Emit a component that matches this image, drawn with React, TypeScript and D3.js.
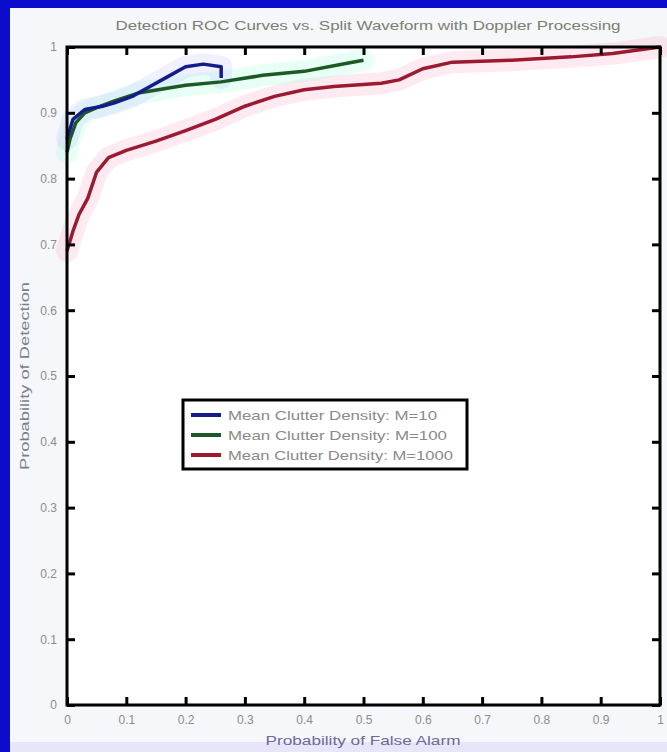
import { useEffect, useRef } from 'react';
import * as d3 from 'd3';

const xTicks = [0, 0.1, 0.2, 0.3, 0.4, 0.5, 0.6, 0.7, 0.8, 0.9, 1];
const yTicks = [0, 0.1, 0.2, 0.3, 0.4, 0.5, 0.6, 0.7, 0.8, 0.9, 1];

// M=10
const pfaM10 = [0, 0.01, 0.03, 0.06, 0.08, 0.11, 0.14, 0.17, 0.2, 0.23, 0.26, 0.26];
const pdM10 = [0.86, 0.89, 0.905, 0.91, 0.915, 0.925, 0.94, 0.955, 0.97, 0.974, 0.97, 0.953];

// M=100
const pfaM100 = [0, 0.005, 0.015, 0.03, 0.05, 0.08, 0.12, 0.2, 0.26, 0.33, 0.4, 0.47, 0.5];
const pdM100 = [0.84, 0.86, 0.885, 0.9, 0.908, 0.918, 0.93, 0.942, 0.947, 0.957, 0.963, 0.975, 0.98];

// M=1000
const pfaM1000 = [0, 0.01, 0.02, 0.035, 0.05, 0.07, 0.1, 0.15, 0.2, 0.25, 0.3, 0.35, 0.4, 0.45, 0.53, 0.56, 0.6, 0.65, 0.75, 0.85, 0.92, 1.0];
const pdM1000 = [0.69, 0.72, 0.745, 0.77, 0.81, 0.832, 0.843, 0.857, 0.873, 0.89, 0.91, 0.925, 0.935, 0.94, 0.945, 0.95, 0.967, 0.977, 0.98, 0.985, 0.99, 1.0];

const seriesNames = ['Mean Clutter Density: M=10', 'Mean Clutter Density: M=100', 'Mean Clutter Density: M=1000'];
const legendWidths = [209, 219, 225];
const seriesColors = ['#141c8c', '#1b5a24', '#9c1a30'];
const haloColors = ['rgba(170,170,255,0.18)', 'rgba(140,255,210,0.2)', 'rgba(255,140,175,0.18)'];

export default function App() {
  const svgRef = useRef<SVGSVGElement | null>(null);

  useEffect(() => {
    if (!svgRef.current) return;
    const W = 667;
    const H = 752;
    const left = 67, right = 660, top = 47, bottom = 705;
    const font = '"Liberation Sans", Arial, sans-serif';

    const svg = d3.select(svgRef.current).attr('width', W).attr('height', H);
    svg.selectAll('*').remove();

    // figure background + blue frame
    svg.append('rect').attr('width', W).attr('height', H).attr('fill', '#f6f7fb');
    svg.append('rect').attr('x', 0).attr('y', H - 10).attr('width', W).attr('height', 10).attr('fill', '#e6e6f8');
    svg.append('rect').attr('x', 0).attr('y', 0).attr('width', 10).attr('height', H).attr('fill', '#0c0ccc');
    svg.append('rect').attr('x', 0).attr('y', 0).attr('width', W).attr('height', 8).attr('fill', '#0c0ccc');

    const x = d3.scaleLinear().domain([0, 1]).range([left, right]);
    const y = d3.scaleLinear().domain([0, 1]).range([bottom, top]);

    svg.append('rect')
      .attr('x', left).attr('y', top)
      .attr('width', right - left).attr('height', bottom - top)
      .attr('fill', '#ffffff');

    // curves
    const line = d3.line<[number, number]>()
      .x(d => x(d[0]))
      .y(d => y(d[1]));

    const series: [number, number][][] = [
      pfaM10.map((v, i) => [v, pdM10[i]]),
      pfaM100.map((v, i) => [v, pdM100[i]]),
      pfaM1000.map((v, i) => [v, pdM1000[i]]),
    ];

    const g = svg.append('g');
    [2, 1, 0].forEach(i => {
      g.append('path')
        .attr('d', line(series[i]))
        .attr('fill', 'none')
        .attr('stroke', haloColors[i])
        .attr('stroke-width', 22)
        .attr('stroke-linejoin', 'round')
        .attr('stroke-linecap', 'round');
    });
    [2, 1, 0].forEach(i => {
      g.append('path')
        .attr('d', line(series[i]))
        .attr('fill', 'none')
        .attr('stroke', seriesColors[i])
        .attr('stroke-width', 3.5)
        .attr('stroke-linejoin', 'round');
    });

    // frame
    svg.append('rect')
      .attr('x', left).attr('y', top)
      .attr('width', right - left).attr('height', bottom - top)
      .attr('fill', 'none')
      .attr('stroke', '#000')
      .attr('stroke-width', 3);

    // axes (ticks inward, like matlab)
    const axB = svg.append('g').attr('transform', `translate(0,${bottom})`)
      .call(d3.axisBottom(x).tickValues(xTicks).tickSize(-8).tickPadding(10).tickFormat(d => d3.format('')(+d)));
    const axT = svg.append('g').attr('transform', `translate(0,${top})`)
      .call(d3.axisTop(x).tickValues(xTicks).tickSize(-8).tickFormat(() => ''));
    const axL = svg.append('g').attr('transform', `translate(${left},0)`)
      .call(d3.axisLeft(y).tickValues(yTicks).tickSize(-8).tickPadding(10).tickFormat(d => d3.format('')(+d)));
    const axR = svg.append('g').attr('transform', `translate(${right},0)`)
      .call(d3.axisRight(y).tickValues(yTicks).tickSize(-8).tickFormat(() => ''));

    [axB, axT, axL, axR].forEach(a => {
      a.select('.domain').remove();
      a.selectAll('.tick line').attr('stroke', '#000').attr('stroke-width', 3);
      a.selectAll('.tick text')
        .attr('fill', '#8c8c8c')
        .style('font-family', font)
        .style('font-size', '12px');
    });

    // title
    svg.append('text')
      .attr('x', 368).attr('y', 30)
      .attr('text-anchor', 'middle')
      .attr('textLength', 505)
      .attr('lengthAdjust', 'spacingAndGlyphs')
      .attr('fill', '#7a8070')
      .style('font-family', font)
      .style('font-size', '13px')
      .text('Detection ROC Curves vs. Split Waveform with Doppler Processing');

    // axis labels
    svg.append('text')
      .attr('x', 363).attr('y', 745)
      .attr('text-anchor', 'middle')
      .attr('textLength', 195)
      .attr('lengthAdjust', 'spacingAndGlyphs')
      .attr('fill', '#6a6a9c')
      .style('font-family', font)
      .style('font-size', '13px')
      .text('Probability of False Alarm');

    svg.append('text')
      .attr('transform', 'translate(29,376) rotate(-90)')
      .attr('text-anchor', 'middle')
      .attr('textLength', 188)
      .attr('lengthAdjust', 'spacingAndGlyphs')
      .attr('fill', '#7a7e90')
      .style('font-family', font)
      .style('font-size', '13px')
      .text('Probability of Detection');

    // legend
    const lg = svg.append('g').attr('transform', 'translate(183,400)');
    lg.append('rect')
      .attr('width', 284).attr('height', 69)
      .attr('fill', '#fff')
      .attr('stroke', '#000')
      .attr('stroke-width', 3);
    seriesNames.forEach((name, i) => {
      const ry = 15 + i * 20;
      lg.append('line')
        .attr('x1', 8).attr('x2', 38)
        .attr('y1', ry).attr('y2', ry)
        .attr('stroke', seriesColors[i])
        .attr('stroke-width', 4);
      lg.append('text')
        .attr('x', 45).attr('y', ry + 5)
        .attr('textLength', legendWidths[i])
        .attr('lengthAdjust', 'spacingAndGlyphs')
        .attr('fill', '#8a8a8a')
        .style('font-family', font)
        .style('font-size', '13px')
        .text(name);
    });
  }, []);

  return <svg ref={svgRef} style={{ position: 'absolute', left: 0, top: 0 }} />;
}
